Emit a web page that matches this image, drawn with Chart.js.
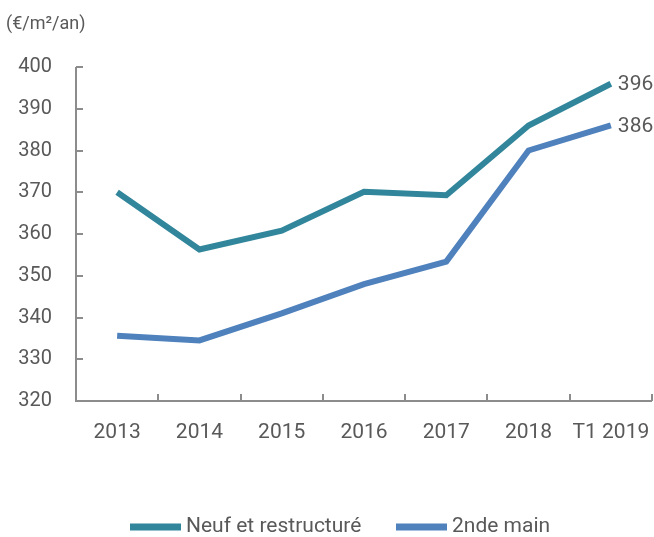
<!DOCTYPE html>
<html>
<head>
<meta charset="utf-8">
<script src="https://cdn.jsdelivr.net/npm/chart.js@4/dist/chart.umd.min.js"></script>
<style>
html,body{margin:0;padding:0;background:#fff;}
#wrap{width:654px;height:537px;position:relative;}
</style>
</head>
<body>
<div id="wrap"><canvas id="c" width="654" height="537"></canvas></div>
<script>
const categories = ["2013", "2014", "2015", "2016", "2017", "2018", "T1 2019"];
const tickLabels = ["2013", "2014", "2015", "2016", "2017", "2018", "T1 2019"];
const neufValues = [370, 356.3, 360.8, 370.1, 369.3, 386, 396];
const secondeMainValues = [335.6, 334.5, 341, 348, 353.4, 380, 386];
const seriesNames = ["Neuf et restructuré", "2nde main"];
const endLabels = ["396", "386"];
const unitLabel = "(€/m²/an)";
const yTicks = [320, 330, 340, 350, 360, 370, 380, 390, 400];

const TEAL = "#31869B";
const BLUE = "#4F81BD";
const TEXT = "#595959";
const AXIS = "#8C8C8C";
const FONT = "Roboto";

const decor = {
  id: "decor",
  afterDraw(chart) {
    const ctx = chart.ctx;
    const xs = chart.scales.x, ys = chart.scales.y;
    const area = chart.chartArea;
    ctx.save();
    ctx.strokeStyle = AXIS;
    ctx.lineWidth = 2;
    ctx.beginPath();
    ctx.moveTo(area.left, area.top);
    ctx.lineTo(area.left, area.bottom);
    ctx.lineTo(area.right, area.bottom);
    ctx.stroke();
    ctx.beginPath();
    yTicks.forEach(v => {
      const y = Math.round(ys.getPixelForValue(v));
      ctx.moveTo(area.left, y);
      ctx.lineTo(area.left + 7, y);
    });
    const n = categories.length;
    const half = (xs.getPixelForValue(1) - xs.getPixelForValue(0)) / 2;
    for (let i = 0; i <= n; i++) {
      const x = Math.round(i < n ? xs.getPixelForValue(i) - half : xs.getPixelForValue(n - 1) + half);
      ctx.moveTo(x, area.bottom);
      ctx.lineTo(x, area.bottom - 7);
    }
    ctx.stroke();
    ctx.fillStyle = TEXT;
    ctx.font = "18px " + FONT;
    ctx.textAlign = "left";
    ctx.textBaseline = "middle";
    ctx.fillText(unitLabel, 6, 24);
    ctx.font = "21px " + FONT;
    chart.data.datasets.forEach((ds, i) => {
      const meta = chart.getDatasetMeta(i);
      const p = meta.data[meta.data.length - 1];
      ctx.fillText(endLabels[i], p.x + 7, p.y + 1);
    });
    const ly = 527;
    ctx.font = "21px " + FONT;
    const items = [
      {x: 130, color: TEAL, text: seriesNames[0]},
      {x: 396, color: BLUE, text: seriesNames[1]}
    ];
    items.forEach(it => {
      ctx.fillStyle = it.color;
      ctx.fillRect(it.x, ly - 3.5, 51, 7);
      ctx.fillStyle = TEXT;
      ctx.fillText(it.text, it.x + 56, ly);
    });
    ctx.restore();
  }
};

new Chart(document.getElementById("c"), {
  type: "line",
  data: {
    labels: categories,
    datasets: [
      {label: seriesNames[0], data: neufValues, borderColor: TEAL, backgroundColor: TEAL, borderWidth: 6, pointRadius: 0, tension: 0, borderCapStyle: "butt", borderJoinStyle: "miter"},
      {label: seriesNames[1], data: secondeMainValues, borderColor: BLUE, backgroundColor: BLUE, borderWidth: 6, pointRadius: 0, tension: 0, borderCapStyle: "butt", borderJoinStyle: "miter"}
    ]
  },
  options: {
    responsive: false,
    animation: false,
    devicePixelRatio: 1,
    layout: {padding: {top: 67, right: 2, left: 0, bottom: 0}},
    plugins: {legend: {display: false}, tooltip: {enabled: false}},
    scales: {
      x: {
        offset: true,
        grid: {display: false, drawTicks: false},
        border: {display: false},
        ticks: {
          color: TEXT, font: {family: FONT, size: 21}, padding: 19, maxRotation: 0, autoSkip: false,
          callback: (v, i) => tickLabels[i]
        },
        afterFit: s => { s.height = 136; s.paddingLeft = 0; s.paddingRight = 0; }
      },
      y: {
        min: 320, max: 400,
        grid: {display: false, drawTicks: false},
        border: {display: false},
        ticks: {
          color: TEXT, font: {family: FONT, size: 20}, padding: 24, stepSize: 10,
          callback: v => yTicks.includes(v) ? String(v) : ""
        },
        afterFit: s => { s.width = 76; s.paddingTop = 0; s.paddingBottom = 0; }
      }
    }
  },
  plugins: [decor]
});
</script>
</body>
</html>
